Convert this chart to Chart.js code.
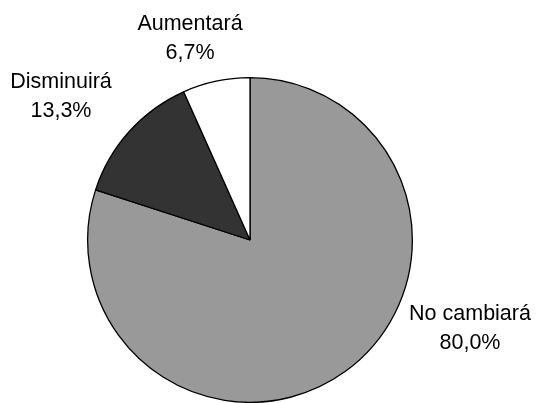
<!DOCTYPE html>
<html>
<head>
<meta charset="utf-8">
<script src="https://cdn.jsdelivr.net/npm/chart.js@4/dist/chart.umd.min.js"></script>
<style>
  html, body { margin: 0; padding: 0; background: #fff; }
  #wrap { width: 536px; height: 403px; position: relative; }
</style>
</head>
<body>
<div id="wrap"><canvas id="pie"></canvas></div>
<script>
const categories = ['No cambiará', 'Disminuirá', 'Aumentará'];
const shares = [80.0, 13.3, 6.7];

const sliceColors = ['#999999', '#333333', '#ffffff'];
// label anchor offsets from the pie centre (x, first baseline)
const labelOffsets = [[220, 80], [-189, -152], [-60, -210]];

const pctLabels = {
  id: 'pctLabels',
  afterDatasetsDraw(chart) {
    const ctx = chart.ctx;
    const meta = chart.getDatasetMeta(0);
    ctx.save();
    ctx.font = '21.5px "Liberation Sans", Arial, sans-serif';
    ctx.fillStyle = '#000';
    ctx.textAlign = 'center';
    ctx.textBaseline = 'alphabetic';
    meta.data.forEach((arc, i) => {
      const [dx, dy] = labelOffsets[i];
      const x = arc.x + dx;
      const y = arc.y + dy;
      ctx.fillText(categories[i], x, y);
      ctx.fillText(shares[i].toFixed(1).replace('.', ',') + '%', x, y + 29);
    });
    ctx.restore();
  }
};

new Chart(document.getElementById('pie'), {
  type: 'pie',
  data: {
    labels: categories,
    datasets: [{
      data: shares,
      backgroundColor: sliceColors,
      borderColor: '#000',
      borderWidth: 1.3
    }]
  },
  options: {
    responsive: true,
    maintainAspectRatio: false,
    animation: false,
    layout: { padding: { left: 87, right: 123, top: 77, bottom: 0 } },
    plugins: {
      legend: { display: false },
      tooltip: { enabled: false }
    }
  },
  plugins: [pctLabels]
});
</script>
</body>
</html>
